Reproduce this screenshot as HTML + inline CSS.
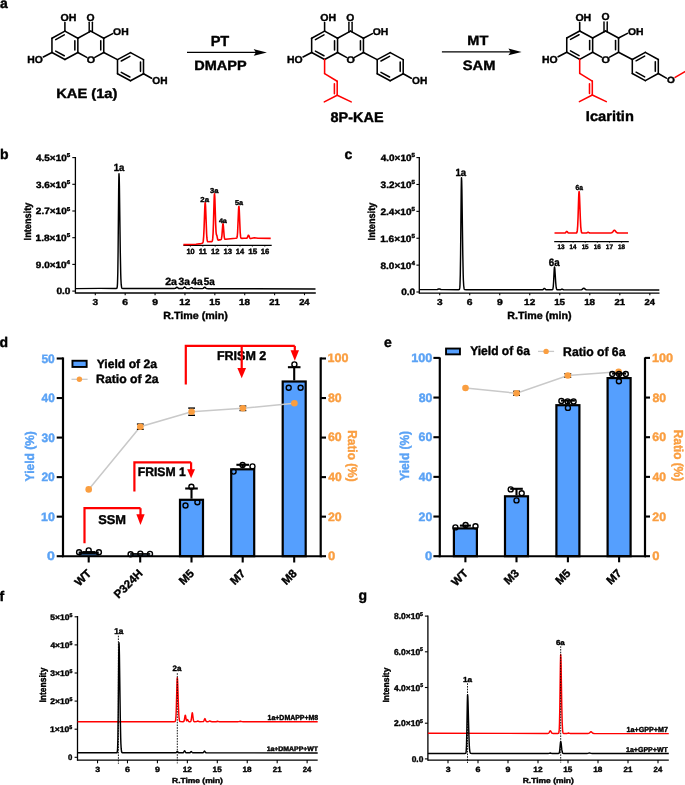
<!DOCTYPE html>
<html><head><meta charset="utf-8"><style>
html,body{margin:0;padding:0;background:#fff;overflow:hidden;}
svg{display:block;will-change:transform;text-rendering:geometricPrecision;font-family:"Liberation Sans", sans-serif;}
text{paint-order:stroke;stroke-width:0.4px;stroke-linejoin:round;}
</style></head><body>
<svg width="685" height="785" viewBox="0 0 685 785">
<rect width="685" height="785" fill="#fff"/>
<text x="0.00" y="7.70" font-size="14" text-anchor="start" font-weight="bold" fill="#000" stroke="#000">a</text>
<g stroke-linejoin="round">
<line x1="64.90" y1="31.15" x2="77.85" y2="38.25" stroke="#000" stroke-width="1.55" stroke-linecap="round"/>
<line x1="77.85" y1="38.25" x2="77.85" y2="52.45" stroke="#000" stroke-width="1.55" stroke-linecap="round"/>
<line x1="77.85" y1="52.45" x2="64.90" y2="59.55" stroke="#000" stroke-width="1.55" stroke-linecap="round"/>
<line x1="64.90" y1="59.55" x2="51.95" y2="52.45" stroke="#000" stroke-width="1.55" stroke-linecap="round"/>
<line x1="51.95" y1="52.45" x2="51.95" y2="38.25" stroke="#000" stroke-width="1.55" stroke-linecap="round"/>
<line x1="51.95" y1="38.25" x2="64.90" y2="31.15" stroke="#000" stroke-width="1.55" stroke-linecap="round"/>
<line x1="64.26" y1="34.92" x2="55.71" y2="39.61" stroke="#000" stroke-width="1.55" stroke-linecap="round"/>
<line x1="64.26" y1="55.78" x2="55.71" y2="51.09" stroke="#000" stroke-width="1.55" stroke-linecap="round"/>
<line x1="74.85" y1="40.66" x2="74.85" y2="50.04" stroke="#000" stroke-width="1.55" stroke-linecap="round"/>
<line x1="90.80" y1="31.15" x2="103.75" y2="38.25" stroke="#000" stroke-width="1.55" stroke-linecap="round"/>
<line x1="103.75" y1="38.25" x2="103.75" y2="52.45" stroke="#000" stroke-width="1.55" stroke-linecap="round"/>
<line x1="77.85" y1="38.25" x2="90.80" y2="31.15" stroke="#000" stroke-width="1.55" stroke-linecap="round"/>
<line x1="103.75" y1="52.45" x2="94.83" y2="57.34" stroke="#000" stroke-width="1.55" stroke-linecap="round"/>
<line x1="86.77" y1="57.34" x2="77.85" y2="52.45" stroke="#000" stroke-width="1.55" stroke-linecap="round"/>
<line x1="100.75" y1="40.66" x2="100.75" y2="50.04" stroke="#000" stroke-width="1.55" stroke-linecap="round"/>
<line x1="130.50" y1="52.60" x2="143.50" y2="59.65" stroke="#000" stroke-width="1.55" stroke-linecap="round"/>
<line x1="143.50" y1="59.65" x2="143.50" y2="73.75" stroke="#000" stroke-width="1.55" stroke-linecap="round"/>
<line x1="143.50" y1="73.75" x2="130.50" y2="80.80" stroke="#000" stroke-width="1.55" stroke-linecap="round"/>
<line x1="130.50" y1="80.80" x2="117.50" y2="73.75" stroke="#000" stroke-width="1.55" stroke-linecap="round"/>
<line x1="117.50" y1="73.75" x2="117.50" y2="59.65" stroke="#000" stroke-width="1.55" stroke-linecap="round"/>
<line x1="117.50" y1="59.65" x2="130.50" y2="52.60" stroke="#000" stroke-width="1.55" stroke-linecap="round"/>
<line x1="121.28" y1="61.01" x2="129.86" y2="56.35" stroke="#000" stroke-width="1.55" stroke-linecap="round"/>
<line x1="140.50" y1="62.05" x2="140.50" y2="71.35" stroke="#000" stroke-width="1.55" stroke-linecap="round"/>
<line x1="129.86" y1="77.05" x2="121.28" y2="72.39" stroke="#000" stroke-width="1.55" stroke-linecap="round"/>
<line x1="103.75" y1="52.45" x2="117.50" y2="59.65" stroke="#000" stroke-width="1.55" stroke-linecap="round"/>
<line x1="64.90" y1="31.15" x2="64.90" y2="22.60" stroke="#000" stroke-width="1.55" stroke-linecap="round"/>
<line x1="89.20" y1="32.05" x2="89.20" y2="22.20" stroke="#000" stroke-width="1.45" stroke-linecap="round"/>
<line x1="92.40" y1="32.05" x2="92.40" y2="22.20" stroke="#000" stroke-width="1.45" stroke-linecap="round"/>
<line x1="103.75" y1="38.25" x2="112.70" y2="33.60" stroke="#000" stroke-width="1.55" stroke-linecap="round"/>
<line x1="51.95" y1="52.45" x2="43.30" y2="57.00" stroke="#000" stroke-width="1.55" stroke-linecap="round"/>
<line x1="143.50" y1="73.75" x2="151.60" y2="78.30" stroke="#000" stroke-width="1.55" stroke-linecap="round"/>
</g>
<text transform="translate(60.58 20.80) scale(1.046 1)" font-size="10.14" font-weight="bold" fill="#000" stroke="#000">OH</text>
<text transform="translate(86.59 20.60) scale(1.021 1)" font-size="10.14" font-weight="bold" fill="#000" stroke="#000">O</text>
<text transform="translate(113.08 34.70) scale(1.055 1)" font-size="9.86" font-weight="bold" fill="#000" stroke="#000">OH</text>
<text transform="translate(27.22 62.90) scale(1.028 1)" font-size="10.14" font-weight="bold" fill="#000" stroke="#000">HO</text>
<text transform="translate(86.77 62.70) scale(1.128 1)" font-size="9.57" font-weight="bold" fill="#000" stroke="#000">O</text>
<text transform="translate(152.29 84.00) scale(1.003 1)" font-size="10.14" font-weight="bold" fill="#000" stroke="#000">OH</text>
<text transform="translate(56.14 98.40) scale(1.081 1)" font-size="13.62" font-weight="bold" fill="#000" stroke="#000">KAE (1a)</text>
<g stroke-linejoin="round">
<line x1="324.60" y1="31.15" x2="337.55" y2="38.25" stroke="#000" stroke-width="1.55" stroke-linecap="round"/>
<line x1="337.55" y1="38.25" x2="337.55" y2="52.45" stroke="#000" stroke-width="1.55" stroke-linecap="round"/>
<line x1="337.55" y1="52.45" x2="324.60" y2="59.55" stroke="#000" stroke-width="1.55" stroke-linecap="round"/>
<line x1="324.60" y1="59.55" x2="311.65" y2="52.45" stroke="#000" stroke-width="1.55" stroke-linecap="round"/>
<line x1="311.65" y1="52.45" x2="311.65" y2="38.25" stroke="#000" stroke-width="1.55" stroke-linecap="round"/>
<line x1="311.65" y1="38.25" x2="324.60" y2="31.15" stroke="#000" stroke-width="1.55" stroke-linecap="round"/>
<line x1="323.96" y1="34.92" x2="315.41" y2="39.61" stroke="#000" stroke-width="1.55" stroke-linecap="round"/>
<line x1="323.96" y1="55.78" x2="315.41" y2="51.09" stroke="#000" stroke-width="1.55" stroke-linecap="round"/>
<line x1="334.55" y1="40.66" x2="334.55" y2="50.04" stroke="#000" stroke-width="1.55" stroke-linecap="round"/>
<line x1="350.50" y1="31.15" x2="363.45" y2="38.25" stroke="#000" stroke-width="1.55" stroke-linecap="round"/>
<line x1="363.45" y1="38.25" x2="363.45" y2="52.45" stroke="#000" stroke-width="1.55" stroke-linecap="round"/>
<line x1="337.55" y1="38.25" x2="350.50" y2="31.15" stroke="#000" stroke-width="1.55" stroke-linecap="round"/>
<line x1="363.45" y1="52.45" x2="354.53" y2="57.34" stroke="#000" stroke-width="1.55" stroke-linecap="round"/>
<line x1="346.47" y1="57.34" x2="337.55" y2="52.45" stroke="#000" stroke-width="1.55" stroke-linecap="round"/>
<line x1="360.45" y1="40.66" x2="360.45" y2="50.04" stroke="#000" stroke-width="1.55" stroke-linecap="round"/>
<line x1="390.20" y1="52.60" x2="403.20" y2="59.65" stroke="#000" stroke-width="1.55" stroke-linecap="round"/>
<line x1="403.20" y1="59.65" x2="403.20" y2="73.75" stroke="#000" stroke-width="1.55" stroke-linecap="round"/>
<line x1="403.20" y1="73.75" x2="390.20" y2="80.80" stroke="#000" stroke-width="1.55" stroke-linecap="round"/>
<line x1="390.20" y1="80.80" x2="377.20" y2="73.75" stroke="#000" stroke-width="1.55" stroke-linecap="round"/>
<line x1="377.20" y1="73.75" x2="377.20" y2="59.65" stroke="#000" stroke-width="1.55" stroke-linecap="round"/>
<line x1="377.20" y1="59.65" x2="390.20" y2="52.60" stroke="#000" stroke-width="1.55" stroke-linecap="round"/>
<line x1="380.98" y1="61.01" x2="389.56" y2="56.35" stroke="#000" stroke-width="1.55" stroke-linecap="round"/>
<line x1="400.20" y1="62.05" x2="400.20" y2="71.35" stroke="#000" stroke-width="1.55" stroke-linecap="round"/>
<line x1="389.56" y1="77.05" x2="380.98" y2="72.39" stroke="#000" stroke-width="1.55" stroke-linecap="round"/>
<line x1="363.45" y1="52.45" x2="377.20" y2="59.65" stroke="#000" stroke-width="1.55" stroke-linecap="round"/>
<line x1="324.60" y1="31.15" x2="324.60" y2="22.60" stroke="#000" stroke-width="1.55" stroke-linecap="round"/>
<line x1="348.90" y1="32.05" x2="348.90" y2="22.20" stroke="#000" stroke-width="1.45" stroke-linecap="round"/>
<line x1="352.10" y1="32.05" x2="352.10" y2="22.20" stroke="#000" stroke-width="1.45" stroke-linecap="round"/>
<line x1="363.45" y1="38.25" x2="372.40" y2="33.60" stroke="#000" stroke-width="1.55" stroke-linecap="round"/>
<line x1="311.65" y1="52.45" x2="303.00" y2="57.00" stroke="#000" stroke-width="1.55" stroke-linecap="round"/>
<line x1="403.20" y1="73.75" x2="411.30" y2="78.30" stroke="#000" stroke-width="1.55" stroke-linecap="round"/>
</g>
<text transform="translate(320.28 20.80) scale(1.046 1)" font-size="10.14" font-weight="bold" fill="#000" stroke="#000">OH</text>
<text transform="translate(346.29 20.60) scale(1.021 1)" font-size="10.14" font-weight="bold" fill="#000" stroke="#000">O</text>
<text transform="translate(372.78 34.70) scale(1.055 1)" font-size="9.86" font-weight="bold" fill="#000" stroke="#000">OH</text>
<text transform="translate(286.92 62.90) scale(1.028 1)" font-size="10.14" font-weight="bold" fill="#000" stroke="#000">HO</text>
<text transform="translate(346.47 62.70) scale(1.128 1)" font-size="9.57" font-weight="bold" fill="#000" stroke="#000">O</text>
<text transform="translate(411.99 84.00) scale(1.003 1)" font-size="10.14" font-weight="bold" fill="#000" stroke="#000">OH</text>
<line x1="324.60" y1="59.55" x2="324.60" y2="73.55" stroke="#FF0000" stroke-width="1.55" stroke-linecap="round"/>
<line x1="324.60" y1="73.55" x2="337.20" y2="81.25" stroke="#FF0000" stroke-width="1.55" stroke-linecap="round"/>
<line x1="337.20" y1="81.25" x2="337.20" y2="95.25" stroke="#FF0000" stroke-width="1.55" stroke-linecap="round"/>
<line x1="337.20" y1="95.25" x2="324.30" y2="101.85" stroke="#FF0000" stroke-width="1.55" stroke-linecap="round"/>
<line x1="337.20" y1="95.25" x2="351.20" y2="101.85" stroke="#FF0000" stroke-width="1.55" stroke-linecap="round"/>
<line x1="334.40" y1="83.85" x2="334.40" y2="93.65" stroke="#FF0000" stroke-width="1.55" stroke-linecap="round"/>
<text transform="translate(330.57 121.50) scale(1.029 1)" font-size="14.06" font-weight="bold" fill="#000" stroke="#000">8P-KAE</text>
<g stroke-linejoin="round">
<line x1="579.70" y1="30.95" x2="592.65" y2="38.05" stroke="#000" stroke-width="1.55" stroke-linecap="round"/>
<line x1="592.65" y1="38.05" x2="592.65" y2="52.25" stroke="#000" stroke-width="1.55" stroke-linecap="round"/>
<line x1="592.65" y1="52.25" x2="579.70" y2="59.35" stroke="#000" stroke-width="1.55" stroke-linecap="round"/>
<line x1="579.70" y1="59.35" x2="566.75" y2="52.25" stroke="#000" stroke-width="1.55" stroke-linecap="round"/>
<line x1="566.75" y1="52.25" x2="566.75" y2="38.05" stroke="#000" stroke-width="1.55" stroke-linecap="round"/>
<line x1="566.75" y1="38.05" x2="579.70" y2="30.95" stroke="#000" stroke-width="1.55" stroke-linecap="round"/>
<line x1="579.06" y1="34.72" x2="570.51" y2="39.41" stroke="#000" stroke-width="1.55" stroke-linecap="round"/>
<line x1="579.06" y1="55.58" x2="570.51" y2="50.89" stroke="#000" stroke-width="1.55" stroke-linecap="round"/>
<line x1="589.65" y1="40.46" x2="589.65" y2="49.84" stroke="#000" stroke-width="1.55" stroke-linecap="round"/>
<line x1="605.60" y1="30.95" x2="618.55" y2="38.05" stroke="#000" stroke-width="1.55" stroke-linecap="round"/>
<line x1="618.55" y1="38.05" x2="618.55" y2="52.25" stroke="#000" stroke-width="1.55" stroke-linecap="round"/>
<line x1="592.65" y1="38.05" x2="605.60" y2="30.95" stroke="#000" stroke-width="1.55" stroke-linecap="round"/>
<line x1="618.55" y1="52.25" x2="609.63" y2="57.14" stroke="#000" stroke-width="1.55" stroke-linecap="round"/>
<line x1="601.57" y1="57.14" x2="592.65" y2="52.25" stroke="#000" stroke-width="1.55" stroke-linecap="round"/>
<line x1="615.55" y1="40.46" x2="615.55" y2="49.84" stroke="#000" stroke-width="1.55" stroke-linecap="round"/>
<line x1="645.30" y1="52.40" x2="658.30" y2="59.45" stroke="#000" stroke-width="1.55" stroke-linecap="round"/>
<line x1="658.30" y1="59.45" x2="658.30" y2="73.55" stroke="#000" stroke-width="1.55" stroke-linecap="round"/>
<line x1="658.30" y1="73.55" x2="645.30" y2="80.60" stroke="#000" stroke-width="1.55" stroke-linecap="round"/>
<line x1="645.30" y1="80.60" x2="632.30" y2="73.55" stroke="#000" stroke-width="1.55" stroke-linecap="round"/>
<line x1="632.30" y1="73.55" x2="632.30" y2="59.45" stroke="#000" stroke-width="1.55" stroke-linecap="round"/>
<line x1="632.30" y1="59.45" x2="645.30" y2="52.40" stroke="#000" stroke-width="1.55" stroke-linecap="round"/>
<line x1="636.08" y1="60.81" x2="644.66" y2="56.15" stroke="#000" stroke-width="1.55" stroke-linecap="round"/>
<line x1="655.30" y1="61.85" x2="655.30" y2="71.15" stroke="#000" stroke-width="1.55" stroke-linecap="round"/>
<line x1="644.66" y1="76.85" x2="636.08" y2="72.19" stroke="#000" stroke-width="1.55" stroke-linecap="round"/>
<line x1="618.55" y1="52.25" x2="632.30" y2="59.45" stroke="#000" stroke-width="1.55" stroke-linecap="round"/>
<line x1="579.70" y1="30.95" x2="579.70" y2="22.40" stroke="#000" stroke-width="1.55" stroke-linecap="round"/>
<line x1="604.00" y1="31.85" x2="604.00" y2="22.00" stroke="#000" stroke-width="1.45" stroke-linecap="round"/>
<line x1="607.20" y1="31.85" x2="607.20" y2="22.00" stroke="#000" stroke-width="1.45" stroke-linecap="round"/>
<line x1="618.55" y1="38.05" x2="627.50" y2="33.40" stroke="#000" stroke-width="1.55" stroke-linecap="round"/>
<line x1="566.75" y1="52.25" x2="558.10" y2="56.80" stroke="#000" stroke-width="1.55" stroke-linecap="round"/>
<line x1="658.30" y1="73.55" x2="666.40" y2="78.10" stroke="#000" stroke-width="1.55" stroke-linecap="round"/>
</g>
<text transform="translate(575.38 20.60) scale(1.046 1)" font-size="10.14" font-weight="bold" fill="#000" stroke="#000">OH</text>
<text transform="translate(601.39 20.40) scale(1.021 1)" font-size="10.14" font-weight="bold" fill="#000" stroke="#000">O</text>
<text transform="translate(627.88 34.50) scale(1.055 1)" font-size="9.86" font-weight="bold" fill="#000" stroke="#000">OH</text>
<text transform="translate(542.02 62.70) scale(1.028 1)" font-size="10.14" font-weight="bold" fill="#000" stroke="#000">HO</text>
<text transform="translate(601.57 62.50) scale(1.128 1)" font-size="9.57" font-weight="bold" fill="#000" stroke="#000">O</text>
<text transform="translate(667.10 83.10) scale(1.121 1)" font-size="8.99" font-weight="bold" fill="#000" stroke="#000">O</text>
<line x1="675.10" y1="77.40" x2="686.80" y2="70.70" stroke="#FF0000" stroke-width="1.55" stroke-linecap="round"/>
<line x1="579.70" y1="59.35" x2="579.70" y2="73.35" stroke="#FF0000" stroke-width="1.55" stroke-linecap="round"/>
<line x1="579.70" y1="73.35" x2="592.30" y2="81.05" stroke="#FF0000" stroke-width="1.55" stroke-linecap="round"/>
<line x1="592.30" y1="81.05" x2="592.30" y2="95.05" stroke="#FF0000" stroke-width="1.55" stroke-linecap="round"/>
<line x1="592.30" y1="95.05" x2="579.40" y2="101.65" stroke="#FF0000" stroke-width="1.55" stroke-linecap="round"/>
<line x1="592.30" y1="95.05" x2="606.30" y2="101.65" stroke="#FF0000" stroke-width="1.55" stroke-linecap="round"/>
<line x1="589.50" y1="83.65" x2="589.50" y2="93.45" stroke="#FF0000" stroke-width="1.55" stroke-linecap="round"/>
<text transform="translate(585.85 120.90) scale(1.031 1)" font-size="14.20" font-weight="bold" fill="#000" stroke="#000">Icaritin</text>
<line x1="187.00" y1="52.40" x2="260.90" y2="52.40" stroke="#000" stroke-width="1.4"/>
<path d="M266.90,52.40 L253.70,49.10 L255.90,52.40 L253.70,55.70 Z" fill="#000"/>
<text transform="translate(210.65 46.10) scale(1.006 1)" font-size="14.49" font-weight="bold" fill="#000" stroke="#000">PT</text>
<text transform="translate(194.26 70.20) scale(1.065 1)" font-size="13.62" font-weight="bold" fill="#000" stroke="#000">DMAPP</text>
<text transform="translate(467.36 45.30) scale(1.066 1)" font-size="13.62" font-weight="bold" fill="#000" stroke="#000">MT</text>
<text transform="translate(462.76 70.00) scale(1.078 1)" font-size="13.62" font-weight="bold" fill="#000" stroke="#000">SAM</text>
<line x1="441.90" y1="51.90" x2="515.60" y2="51.90" stroke="#000" stroke-width="1.4"/>
<path d="M521.60,51.90 L508.40,48.60 L510.60,51.90 L508.40,55.20 Z" fill="#000"/>
<text x="-0.10" y="159.10" font-size="14" text-anchor="start" font-weight="bold" fill="#000" stroke="#000">b</text>
<line x1="75.40" y1="157.00" x2="75.40" y2="293.60" stroke="#000" stroke-width="1.3"/>
<line x1="72.30" y1="291.10" x2="75.40" y2="291.10" stroke="#000" stroke-width="1.1"/>
<text transform="translate(56.40 294.30) scale(1.104 1)" font-size="9.13" font-weight="bold" fill="#000" stroke="#000">0.0</text>
<line x1="72.30" y1="264.40" x2="75.40" y2="264.40" stroke="#000" stroke-width="1.1"/>
<text transform="translate(70.04 267.70) scale(1.091 1)" font-size="9.13" font-weight="bold" text-anchor="end" fill="#000" stroke="#000">9.0×10<tspan font-size="5.66" dy="-3.65">4</tspan></text>
<line x1="72.30" y1="237.70" x2="75.40" y2="237.70" stroke="#000" stroke-width="1.1"/>
<text transform="translate(70.16 241.00) scale(1.105 1)" font-size="9.13" font-weight="bold" text-anchor="end" fill="#000" stroke="#000">1.8×10<tspan font-size="5.66" dy="-3.65">5</tspan></text>
<line x1="72.30" y1="211.00" x2="75.40" y2="211.00" stroke="#000" stroke-width="1.1"/>
<text transform="translate(70.16 214.30) scale(1.095 1)" font-size="9.13" font-weight="bold" text-anchor="end" fill="#000" stroke="#000">2.7×10<tspan font-size="5.66" dy="-3.65">5</tspan></text>
<line x1="72.30" y1="184.30" x2="75.40" y2="184.30" stroke="#000" stroke-width="1.1"/>
<text transform="translate(70.16 187.60) scale(1.092 1)" font-size="9.13" font-weight="bold" text-anchor="end" fill="#000" stroke="#000">3.6×10<tspan font-size="5.66" dy="-3.65">5</tspan></text>
<line x1="72.30" y1="157.60" x2="75.40" y2="157.60" stroke="#000" stroke-width="1.1"/>
<text transform="translate(70.16 160.90) scale(1.089 1)" font-size="9.13" font-weight="bold" text-anchor="end" fill="#000" stroke="#000">4.5×10<tspan font-size="5.66" dy="-3.65">5</tspan></text>
<line x1="75.40" y1="293.00" x2="315.80" y2="293.00" stroke="#000" stroke-width="1.3"/>
<line x1="95.30" y1="293.00" x2="95.30" y2="295.20" stroke="#000" stroke-width="1.1"/>
<text transform="translate(92.54 305.30) scale(1.162 1)" font-size="8.70" font-weight="bold" fill="#000" stroke="#000">3</text>
<line x1="125.18" y1="293.00" x2="125.18" y2="295.20" stroke="#000" stroke-width="1.1"/>
<text transform="translate(122.32 305.30) scale(1.186 1)" font-size="8.70" font-weight="bold" fill="#000" stroke="#000">6</text>
<line x1="155.07" y1="293.00" x2="155.07" y2="295.20" stroke="#000" stroke-width="1.1"/>
<text transform="translate(152.21 305.30) scale(1.186 1)" font-size="8.70" font-weight="bold" fill="#000" stroke="#000">9</text>
<line x1="184.95" y1="293.00" x2="184.95" y2="295.20" stroke="#000" stroke-width="1.1"/>
<text transform="translate(179.31 305.30) scale(1.144 1)" font-size="8.70" font-weight="bold" fill="#000" stroke="#000">12</text>
<line x1="214.84" y1="293.00" x2="214.84" y2="295.20" stroke="#000" stroke-width="1.1"/>
<text transform="translate(209.20 305.30) scale(1.127 1)" font-size="8.70" font-weight="bold" fill="#000" stroke="#000">15</text>
<line x1="244.73" y1="293.00" x2="244.73" y2="295.20" stroke="#000" stroke-width="1.1"/>
<text transform="translate(239.09 305.30) scale(1.133 1)" font-size="8.70" font-weight="bold" fill="#000" stroke="#000">18</text>
<line x1="274.61" y1="293.00" x2="274.61" y2="295.20" stroke="#000" stroke-width="1.1"/>
<text transform="translate(269.28 305.30) scale(1.095 1)" font-size="8.70" font-weight="bold" fill="#000" stroke="#000">21</text>
<line x1="304.50" y1="293.00" x2="304.50" y2="295.20" stroke="#000" stroke-width="1.1"/>
<text transform="translate(299.17 305.30) scale(1.075 1)" font-size="8.70" font-weight="bold" fill="#000" stroke="#000">24</text>
<text transform="translate(163.31 319.00) scale(1.024 1)" font-size="10.43" font-weight="bold" fill="#000" stroke="#000">R.Time (min)</text>
<text transform="translate(30.90 240.40) rotate(-90) scale(0.905 1)" font-size="10.14" font-weight="bold" fill="#000" stroke="#000">Intensity</text>
<path d="M75.40,288.60 L100.00,288.40 L116.20,288.44 L116.70,288.36 L117.00,288.00 L117.30,286.37 L117.50,283.40 L117.80,272.93 L118.10,251.22 L118.70,187.27 L118.90,175.38 L119.00,173.80 L119.20,176.93 L119.40,185.82 L120.30,252.85 L120.70,272.93 L120.90,279.02 L121.20,284.42 L121.60,287.38 L121.80,287.95 L122.10,288.30 L122.50,288.43 L123.20,288.45 L174.20,288.57 L175.30,288.39 L175.70,288.13 L176.50,287.36 L176.90,287.20 L177.30,287.36 L178.30,288.28 L178.80,288.50 L181.90,288.58 L182.50,288.54 L183.00,288.38 L183.40,288.08 L184.20,287.19 L184.60,287.00 L185.00,287.19 L185.80,288.08 L186.20,288.38 L186.70,288.55 L187.50,288.60 L189.00,288.60 L189.70,288.50 L190.20,288.28 L191.00,287.72 L191.40,287.60 L191.80,287.72 L192.80,288.40 L193.60,288.59 L202.40,288.61 L203.20,288.39 L204.30,287.37 L204.70,287.20 L205.10,287.37 L205.90,288.18 L206.30,288.45 L206.80,288.60 L207.50,288.65 L315.50,288.90" fill="none" stroke="#000" stroke-width="1.45" stroke-linejoin="round"/>
<text transform="translate(113.78 170.50) scale(0.917 1)" font-size="10.43" font-weight="bold" fill="#000" stroke="#000">1a</text>
<text transform="translate(165.13 284.60) scale(1.016 1)" font-size="10.43" font-weight="bold" fill="#000" stroke="#000">2a</text>
<text transform="translate(178.54 284.60) scale(0.980 1)" font-size="10.43" font-weight="bold" fill="#000" stroke="#000">3a</text>
<text transform="translate(191.25 284.60) scale(0.980 1)" font-size="10.43" font-weight="bold" fill="#000" stroke="#000">4a</text>
<text transform="translate(203.70 284.60) scale(0.950 1)" font-size="10.43" font-weight="bold" fill="#000" stroke="#000">5a</text>
<line x1="183.40" y1="245.40" x2="271.70" y2="245.40" stroke="#000" stroke-width="1.25"/>
<line x1="190.40" y1="245.40" x2="190.40" y2="246.60" stroke="#000" stroke-width="0.9"/>
<line x1="202.80" y1="245.40" x2="202.80" y2="246.60" stroke="#000" stroke-width="0.9"/>
<line x1="215.20" y1="245.40" x2="215.20" y2="246.60" stroke="#000" stroke-width="0.9"/>
<line x1="227.60" y1="245.40" x2="227.60" y2="246.60" stroke="#000" stroke-width="0.9"/>
<line x1="240.00" y1="245.40" x2="240.00" y2="246.60" stroke="#000" stroke-width="0.9"/>
<line x1="252.40" y1="245.40" x2="252.40" y2="246.60" stroke="#000" stroke-width="0.9"/>
<line x1="264.80" y1="245.40" x2="264.80" y2="246.60" stroke="#000" stroke-width="0.9"/>
<text transform="translate(186.52 253.80) scale(0.977 1)" font-size="7.54" font-weight="bold" fill="#000" stroke="#000">10</text>
<text transform="translate(198.70 253.80) scale(1.018 1)" font-size="7.54" font-weight="bold" fill="#000" stroke="#000">11</text>
<text transform="translate(211.11 253.80) scale(1.003 1)" font-size="7.54" font-weight="bold" fill="#000" stroke="#000">12</text>
<text transform="translate(223.40 253.80) scale(1.012 1)" font-size="7.54" font-weight="bold" fill="#000" stroke="#000">13</text>
<text transform="translate(235.71 253.80) scale(0.995 1)" font-size="7.54" font-weight="bold" fill="#000" stroke="#000">14</text>
<text transform="translate(248.18 253.80) scale(1.067 1)" font-size="7.54" font-weight="bold" fill="#000" stroke="#000">15</text>
<text transform="translate(260.70 253.80) scale(1.012 1)" font-size="7.54" font-weight="bold" fill="#000" stroke="#000">16</text>
<path d="M183.40,244.60 L196.00,244.30 L201.00,243.60 L202.30,243.20 L202.80,242.69 L203.05,241.99 L203.30,240.62 L203.70,236.02 L204.05,228.60 L204.80,207.39 L205.00,203.88 L205.20,202.60 L205.40,203.78 L205.60,207.19 L206.60,233.56 L206.90,237.94 L207.20,240.29 L207.55,241.43 L207.75,241.66 L208.10,241.82 L211.45,241.65 L211.85,241.54 L212.15,241.27 L212.45,240.46 L212.70,238.88 L213.10,233.17 L213.45,223.63 L214.10,200.25 L214.30,195.60 L214.50,193.90 L214.70,195.30 L214.90,199.34 L215.65,223.69 L216.05,232.02 L216.35,234.36 L216.90,235.54 L217.60,239.05 L217.80,239.66 L218.05,240.02 L218.50,240.10 L220.80,239.66 L221.20,239.34 L221.45,238.74 L221.90,235.86 L222.65,225.95 L222.85,224.23 L223.00,223.80 L223.15,224.20 L223.35,225.89 L224.20,236.55 L224.50,238.29 L224.85,239.08 L225.15,239.26 L225.65,239.28 L235.50,238.29 L236.45,238.13 L236.80,237.86 L237.05,237.25 L237.25,236.24 L237.60,232.54 L238.55,210.05 L238.75,207.02 L238.90,206.30 L239.05,207.03 L239.25,210.07 L240.20,232.64 L240.60,236.69 L240.80,237.57 L241.10,238.16 L241.60,238.37 L244.00,238.20 L246.10,238.31 L246.70,238.24 L247.00,238.05 L247.25,237.73 L248.15,235.56 L248.35,235.27 L248.50,235.20 L248.85,235.60 L249.50,237.35 L249.85,238.04 L250.25,238.42 L250.75,238.58 L254.30,237.80 L258.00,238.30 L270.70,238.40" fill="none" stroke="#FF0000" stroke-width="1.6" stroke-linejoin="round"/>
<text transform="translate(200.33 202.00) scale(1.081 1)" font-size="7.25" font-weight="bold" fill="#000" stroke="#000">2a</text>
<text transform="translate(210.11 193.30) scale(1.046 1)" font-size="7.25" font-weight="bold" fill="#000" stroke="#000">3a</text>
<text transform="translate(218.89 222.90) scale(1.072 1)" font-size="6.67" font-weight="bold" fill="#000" stroke="#000">4a</text>
<text transform="translate(234.88 204.90) scale(1.042 1)" font-size="6.96" font-weight="bold" fill="#000" stroke="#000">5a</text>
<text x="344.40" y="159.20" font-size="14" text-anchor="start" font-weight="bold" fill="#000" stroke="#000">c</text>
<line x1="419.30" y1="157.00" x2="419.30" y2="293.70" stroke="#000" stroke-width="1.3"/>
<line x1="416.40" y1="292.00" x2="419.30" y2="292.00" stroke="#000" stroke-width="1.1"/>
<text transform="translate(401.20 295.20) scale(1.086 1)" font-size="9.28" font-weight="bold" fill="#000" stroke="#000">0.0</text>
<line x1="416.40" y1="265.12" x2="419.30" y2="265.12" stroke="#000" stroke-width="1.1"/>
<text transform="translate(414.84 268.52) scale(1.079 1)" font-size="9.28" font-weight="bold" text-anchor="end" fill="#000" stroke="#000">8.0×10<tspan font-size="5.75" dy="-3.71">4</tspan></text>
<line x1="416.40" y1="238.24" x2="419.30" y2="238.24" stroke="#000" stroke-width="1.1"/>
<text transform="translate(414.96 241.64) scale(1.094 1)" font-size="9.28" font-weight="bold" text-anchor="end" fill="#000" stroke="#000">1.6×10<tspan font-size="5.75" dy="-3.71">5</tspan></text>
<line x1="416.40" y1="211.36" x2="419.30" y2="211.36" stroke="#000" stroke-width="1.1"/>
<text transform="translate(414.96 214.76) scale(1.084 1)" font-size="9.28" font-weight="bold" text-anchor="end" fill="#000" stroke="#000">2.4×10<tspan font-size="5.75" dy="-3.71">5</tspan></text>
<line x1="416.40" y1="184.48" x2="419.30" y2="184.48" stroke="#000" stroke-width="1.1"/>
<text transform="translate(414.96 187.88) scale(1.081 1)" font-size="9.28" font-weight="bold" text-anchor="end" fill="#000" stroke="#000">3.2×10<tspan font-size="5.75" dy="-3.71">5</tspan></text>
<line x1="416.40" y1="157.60" x2="419.30" y2="157.60" stroke="#000" stroke-width="1.1"/>
<text transform="translate(414.96 161.00) scale(1.078 1)" font-size="9.28" font-weight="bold" text-anchor="end" fill="#000" stroke="#000">4.0×10<tspan font-size="5.75" dy="-3.71">5</tspan></text>
<line x1="419.30" y1="293.10" x2="659.50" y2="293.10" stroke="#000" stroke-width="1.3"/>
<line x1="439.71" y1="293.10" x2="439.71" y2="295.30" stroke="#000" stroke-width="1.1"/>
<text transform="translate(436.96 305.30) scale(1.162 1)" font-size="8.70" font-weight="bold" fill="#000" stroke="#000">3</text>
<line x1="469.73" y1="293.10" x2="469.73" y2="295.30" stroke="#000" stroke-width="1.1"/>
<text transform="translate(466.87 305.30) scale(1.186 1)" font-size="8.70" font-weight="bold" fill="#000" stroke="#000">6</text>
<line x1="499.75" y1="293.10" x2="499.75" y2="295.30" stroke="#000" stroke-width="1.1"/>
<text transform="translate(496.88 305.30) scale(1.186 1)" font-size="8.70" font-weight="bold" fill="#000" stroke="#000">9</text>
<line x1="529.76" y1="293.10" x2="529.76" y2="295.30" stroke="#000" stroke-width="1.1"/>
<text transform="translate(524.11 305.30) scale(1.144 1)" font-size="8.70" font-weight="bold" fill="#000" stroke="#000">12</text>
<line x1="559.77" y1="293.10" x2="559.77" y2="295.30" stroke="#000" stroke-width="1.1"/>
<text transform="translate(554.14 305.30) scale(1.127 1)" font-size="8.70" font-weight="bold" fill="#000" stroke="#000">15</text>
<line x1="589.79" y1="293.10" x2="589.79" y2="295.30" stroke="#000" stroke-width="1.1"/>
<text transform="translate(584.15 305.30) scale(1.133 1)" font-size="8.70" font-weight="bold" fill="#000" stroke="#000">18</text>
<line x1="619.81" y1="293.10" x2="619.81" y2="295.30" stroke="#000" stroke-width="1.1"/>
<text transform="translate(614.47 305.30) scale(1.095 1)" font-size="8.70" font-weight="bold" fill="#000" stroke="#000">21</text>
<line x1="649.82" y1="293.10" x2="649.82" y2="295.30" stroke="#000" stroke-width="1.1"/>
<text transform="translate(644.49 305.30) scale(1.075 1)" font-size="8.70" font-weight="bold" fill="#000" stroke="#000">24</text>
<text transform="translate(507.21 319.00) scale(1.024 1)" font-size="10.43" font-weight="bold" fill="#000" stroke="#000">R.Time (min)</text>
<text transform="translate(375.00 240.40) rotate(-90) scale(0.905 1)" font-size="10.14" font-weight="bold" fill="#000" stroke="#000">Intensity</text>
<path d="M419.30,289.60 L436.30,289.61 L437.30,289.48 L438.60,288.99 L439.10,288.90 L439.60,288.99 L441.00,289.52 L442.30,289.63 L458.80,289.66 L459.20,289.59 L459.50,289.23 L459.80,287.65 L460.00,284.75 L460.30,274.53 L460.60,253.35 L461.20,190.94 L461.40,179.34 L461.50,177.80 L461.70,180.85 L461.90,189.53 L462.80,254.94 L463.20,274.53 L463.40,280.47 L463.70,285.75 L464.10,288.63 L464.30,289.18 L464.60,289.53 L465.00,289.65 L465.80,289.68 L542.00,289.80 L542.60,289.75 L543.00,289.62 L544.10,288.52 L544.40,288.40 L544.80,288.61 L545.60,289.49 L546.20,289.76 L552.30,289.78 L552.70,289.48 L552.90,289.01 L553.30,286.32 L553.60,281.87 L554.20,269.52 L554.40,267.29 L554.50,267.00 L554.70,267.70 L554.90,269.68 L555.70,282.42 L556.10,286.74 L556.30,288.01 L556.60,289.10 L556.90,289.58 L557.30,289.78 L560.50,289.80 L561.00,289.65 L561.70,289.19 L562.00,289.10 L562.30,289.19 L563.10,289.70 L563.80,289.83 L580.80,289.85 L581.40,289.78 L581.90,289.60 L583.30,288.40 L583.80,288.20 L584.30,288.40 L585.70,289.60 L586.30,289.80 L587.10,289.87 L659.30,290.00" fill="none" stroke="#000" stroke-width="1.45" stroke-linejoin="round"/>
<text transform="translate(455.38 176.20) scale(0.917 1)" font-size="10.43" font-weight="bold" fill="#000" stroke="#000">1a</text>
<text transform="translate(548.76 265.50) scale(0.923 1)" font-size="10.58" font-weight="bold" fill="#000" stroke="#000">6a</text>
<line x1="554.20" y1="241.60" x2="628.80" y2="241.60" stroke="#000" stroke-width="1.25"/>
<line x1="561.00" y1="241.60" x2="561.00" y2="242.70" stroke="#000" stroke-width="0.9"/>
<text transform="translate(557.39 249.20) scale(0.950 1)" font-size="6.67" font-weight="bold" fill="#000" stroke="#000">13</text>
<line x1="573.12" y1="241.60" x2="573.12" y2="242.70" stroke="#000" stroke-width="0.9"/>
<text transform="translate(569.52 249.20) scale(0.923 1)" font-size="6.67" font-weight="bold" fill="#000" stroke="#000">14</text>
<line x1="585.24" y1="241.60" x2="585.24" y2="242.70" stroke="#000" stroke-width="0.9"/>
<text transform="translate(581.63 249.20) scale(0.941 1)" font-size="6.67" font-weight="bold" fill="#000" stroke="#000">15</text>
<line x1="597.36" y1="241.60" x2="597.36" y2="242.70" stroke="#000" stroke-width="0.9"/>
<text transform="translate(593.75 249.20) scale(0.950 1)" font-size="6.67" font-weight="bold" fill="#000" stroke="#000">16</text>
<line x1="609.48" y1="241.60" x2="609.48" y2="242.70" stroke="#000" stroke-width="0.9"/>
<text transform="translate(605.86 249.20) scale(0.960 1)" font-size="6.67" font-weight="bold" fill="#000" stroke="#000">17</text>
<line x1="621.60" y1="241.60" x2="621.60" y2="242.70" stroke="#000" stroke-width="0.9"/>
<text transform="translate(617.99 249.20) scale(0.946 1)" font-size="6.67" font-weight="bold" fill="#000" stroke="#000">18</text>
<path d="M554.50,233.00 L564.85,232.97 L565.55,232.68 L566.45,231.59 L566.80,231.40 L567.15,231.59 L568.05,232.68 L568.75,232.97 L576.00,232.99 L576.50,232.90 L576.80,232.62 L577.10,231.82 L577.30,230.68 L577.70,225.75 L578.05,217.46 L578.70,197.09 L578.90,193.05 L579.10,191.60 L579.30,192.73 L579.50,195.94 L580.35,218.96 L580.75,226.71 L581.20,231.04 L581.50,232.23 L581.85,232.78 L582.15,232.93 L582.60,232.99 L586.50,232.98 L587.05,232.83 L587.80,232.29 L588.10,232.20 L588.40,232.29 L589.25,232.87 L589.95,232.99 L610.80,232.97 L611.55,232.83 L612.15,232.52 L612.70,231.97 L613.80,230.53 L614.10,230.29 L614.40,230.20 L614.70,230.29 L615.00,230.53 L616.50,232.39 L616.95,232.71 L617.50,232.90 L618.85,233.00 L628.00,233.00" fill="none" stroke="#FF0000" stroke-width="1.6" stroke-linejoin="round"/>
<text transform="translate(575.46 189.90) scale(0.910 1)" font-size="7.39" font-weight="bold" fill="#000" stroke="#000">6a</text>
<text x="-0.60" y="346.50" font-size="14" text-anchor="start" font-weight="bold" fill="#000" stroke="#000">d</text>
<rect x="180.00" y="499.80" width="23.00" height="56.40" fill="#559FFE" stroke="#000" stroke-width="2.2"/>
<rect x="231.20" y="469.30" width="23.00" height="86.90" fill="#559FFE" stroke="#000" stroke-width="2.2"/>
<rect x="282.70" y="381.50" width="23.00" height="174.70" fill="#559FFE" stroke="#000" stroke-width="2.2"/>
<polyline points="88.7,489.4 140.3,426.7 191.6,411.7 242.9,408.3 294.4,403.3" fill="none" stroke="#C9C9C9" stroke-width="1.5"/>
<line x1="191.50" y1="498.70" x2="191.50" y2="488.50" stroke="#000" stroke-width="2.1"/>
<line x1="185.20" y1="488.50" x2="197.80" y2="488.50" stroke="#000" stroke-width="2.1"/>
<circle cx="191.40" cy="486.70" r="2.5" fill="none" stroke="#000" stroke-width="1.4"/>
<circle cx="185.50" cy="505.50" r="2.5" fill="none" stroke="#000" stroke-width="1.4"/>
<circle cx="197.40" cy="502.20" r="2.5" fill="none" stroke="#000" stroke-width="1.4"/>
<line x1="242.70" y1="468.20" x2="242.70" y2="464.80" stroke="#000" stroke-width="2.1"/>
<line x1="236.40" y1="464.80" x2="249.00" y2="464.80" stroke="#000" stroke-width="2.1"/>
<circle cx="242.60" cy="465.00" r="2.5" fill="none" stroke="#000" stroke-width="1.4"/>
<circle cx="233.60" cy="471.60" r="2.5" fill="none" stroke="#000" stroke-width="1.4"/>
<circle cx="252.50" cy="466.40" r="2.5" fill="none" stroke="#000" stroke-width="1.4"/>
<line x1="294.20" y1="380.40" x2="294.20" y2="367.20" stroke="#000" stroke-width="2.1"/>
<line x1="287.90" y1="367.20" x2="300.50" y2="367.20" stroke="#000" stroke-width="2.1"/>
<circle cx="294.40" cy="364.40" r="2.5" fill="none" stroke="#000" stroke-width="1.4"/>
<circle cx="288.70" cy="387.80" r="2.5" fill="none" stroke="#000" stroke-width="1.4"/>
<circle cx="300.60" cy="387.80" r="2.5" fill="none" stroke="#000" stroke-width="1.4"/>
<rect x="78.7" y="552.6" width="20" height="3.2" fill="#24466e"/>
<line x1="78.70" y1="552.60" x2="98.70" y2="552.60" stroke="#000" stroke-width="2.2"/>
<rect x="82.6" y="551.1" width="12.4" height="2.6" fill="#000"/>
<circle cx="79.10" cy="552.30" r="2.5" fill="none" stroke="#000" stroke-width="1.4"/>
<circle cx="88.70" cy="550.40" r="2.5" fill="none" stroke="#000" stroke-width="1.4"/>
<circle cx="98.90" cy="552.30" r="2.5" fill="none" stroke="#000" stroke-width="1.4"/>
<rect x="130.2" y="554.3" width="20" height="1.6" fill="#24466e"/>
<line x1="130.20" y1="553.90" x2="150.20" y2="553.90" stroke="#000" stroke-width="1.6"/>
<circle cx="130.60" cy="554.20" r="2.5" fill="none" stroke="#000" stroke-width="1.4"/>
<circle cx="140.30" cy="553.60" r="2.5" fill="none" stroke="#000" stroke-width="1.4"/>
<circle cx="150.00" cy="553.90" r="2.5" fill="none" stroke="#000" stroke-width="1.4"/>
<circle cx="88.70" cy="489.40" r="3.3" fill="#FA9E40" stroke="none" stroke-width="0"/>
<line x1="136.90" y1="424.10" x2="143.70" y2="424.10" stroke="#000" stroke-width="1.4"/>
<line x1="136.90" y1="429.30" x2="143.70" y2="429.30" stroke="#000" stroke-width="1.4"/>
<line x1="140.30" y1="424.10" x2="140.30" y2="429.30" stroke="#000" stroke-width="1.2"/>
<circle cx="140.30" cy="426.70" r="3.3" fill="#FA9E40" stroke="none" stroke-width="0"/>
<line x1="188.20" y1="408.10" x2="195.00" y2="408.10" stroke="#000" stroke-width="1.4"/>
<line x1="188.20" y1="415.30" x2="195.00" y2="415.30" stroke="#000" stroke-width="1.4"/>
<line x1="191.60" y1="408.10" x2="191.60" y2="415.30" stroke="#000" stroke-width="1.2"/>
<circle cx="191.60" cy="411.70" r="3.3" fill="#FA9E40" stroke="none" stroke-width="0"/>
<line x1="239.50" y1="406.10" x2="246.30" y2="406.10" stroke="#000" stroke-width="1.4"/>
<line x1="239.50" y1="410.50" x2="246.30" y2="410.50" stroke="#000" stroke-width="1.4"/>
<line x1="242.90" y1="406.10" x2="242.90" y2="410.50" stroke="#000" stroke-width="1.2"/>
<circle cx="242.90" cy="408.30" r="3.3" fill="#FA9E40" stroke="none" stroke-width="0"/>
<circle cx="294.40" cy="403.30" r="3.3" fill="#FA9E40" stroke="none" stroke-width="0"/>
<line x1="63.00" y1="357.40" x2="63.00" y2="557.20" stroke="#000" stroke-width="2.2"/>
<line x1="320.70" y1="357.40" x2="320.70" y2="557.20" stroke="#000" stroke-width="2.2"/>
<line x1="61.90" y1="556.20" x2="321.80" y2="556.20" stroke="#000" stroke-width="2.1"/>
<line x1="56.70" y1="556.20" x2="63.00" y2="556.20" stroke="#000" stroke-width="2.1"/>
<line x1="56.70" y1="516.66" x2="63.00" y2="516.66" stroke="#000" stroke-width="2.1"/>
<line x1="56.70" y1="477.12" x2="63.00" y2="477.12" stroke="#000" stroke-width="2.1"/>
<line x1="56.70" y1="437.58" x2="63.00" y2="437.58" stroke="#000" stroke-width="2.1"/>
<line x1="56.70" y1="398.04" x2="63.00" y2="398.04" stroke="#000" stroke-width="2.1"/>
<line x1="56.70" y1="358.50" x2="63.00" y2="358.50" stroke="#000" stroke-width="2.1"/>
<text transform="translate(47.04 560.20) scale(1.159 1)" font-size="12.17" font-weight="bold" fill="#5AA2F5" stroke="#5AA2F5">0</text>
<text transform="translate(40.99 520.66) scale(1.022 1)" font-size="12.17" font-weight="bold" fill="#5AA2F5" stroke="#5AA2F5">10</text>
<text transform="translate(41.38 481.12) scale(0.992 1)" font-size="12.17" font-weight="bold" fill="#5AA2F5" stroke="#5AA2F5">20</text>
<text transform="translate(41.50 441.58) scale(0.983 1)" font-size="12.17" font-weight="bold" fill="#5AA2F5" stroke="#5AA2F5">30</text>
<text transform="translate(41.62 402.04) scale(0.973 1)" font-size="12.17" font-weight="bold" fill="#5AA2F5" stroke="#5AA2F5">40</text>
<text transform="translate(41.44 362.50) scale(0.987 1)" font-size="12.17" font-weight="bold" fill="#5AA2F5" stroke="#5AA2F5">50</text>
<line x1="320.70" y1="556.20" x2="326.00" y2="556.20" stroke="#000" stroke-width="2.1"/>
<text transform="translate(327.88 560.10) scale(1.072 1)" font-size="12.17" font-weight="bold" fill="#FA9E40" stroke="#FA9E40">0</text>
<line x1="320.70" y1="516.66" x2="326.00" y2="516.66" stroke="#000" stroke-width="2.1"/>
<text transform="translate(327.97 520.56) scale(1.016 1)" font-size="12.17" font-weight="bold" fill="#FA9E40" stroke="#FA9E40">20</text>
<line x1="320.70" y1="477.12" x2="326.00" y2="477.12" stroke="#000" stroke-width="2.1"/>
<text transform="translate(328.22 481.02) scale(0.997 1)" font-size="12.17" font-weight="bold" fill="#FA9E40" stroke="#FA9E40">40</text>
<line x1="320.70" y1="437.58" x2="326.00" y2="437.58" stroke="#000" stroke-width="2.1"/>
<text transform="translate(327.97 441.48) scale(1.016 1)" font-size="12.17" font-weight="bold" fill="#FA9E40" stroke="#FA9E40">60</text>
<line x1="320.70" y1="398.04" x2="326.00" y2="398.04" stroke="#000" stroke-width="2.1"/>
<text transform="translate(328.03 401.94) scale(1.011 1)" font-size="12.17" font-weight="bold" fill="#FA9E40" stroke="#FA9E40">80</text>
<line x1="320.70" y1="358.50" x2="326.00" y2="358.50" stroke="#000" stroke-width="2.1"/>
<text transform="translate(327.58 362.40) scale(1.032 1)" font-size="12.17" font-weight="bold" fill="#FA9E40" stroke="#FA9E40">100</text>
<line x1="88.70" y1="556.20" x2="88.70" y2="562.50" stroke="#000" stroke-width="2.1"/>
<line x1="140.20" y1="556.20" x2="140.20" y2="562.50" stroke="#000" stroke-width="2.1"/>
<line x1="191.50" y1="556.20" x2="191.50" y2="562.50" stroke="#000" stroke-width="2.1"/>
<line x1="242.70" y1="556.20" x2="242.70" y2="562.50" stroke="#000" stroke-width="2.1"/>
<line x1="294.20" y1="556.20" x2="294.20" y2="562.50" stroke="#000" stroke-width="2.1"/>
<text transform="translate(33.80 481.44) rotate(-90) scale(0.953 1)" font-size="12.61" font-weight="bold" fill="#5AA2F5" stroke="#5AA2F5">Yield (%)</text>
<text transform="translate(348.10 430.23) rotate(90) scale(0.920 1)" font-size="12.90" font-weight="bold" fill="#FA9E40" stroke="#FA9E40">Ratio (%)</text>
<rect x="72.45" y="360.75" width="14.2" height="6.2" fill="#559FFE" stroke="#000" stroke-width="1.9"/>
<text transform="translate(96.66 367.90) scale(1.000 1)" font-size="12.17" font-weight="bold" fill="#000" stroke="#000">Yield of 2a</text>
<line x1="71.50" y1="379.30" x2="87.60" y2="379.30" stroke="#C9C9C9" stroke-width="1.3"/>
<circle cx="79.40" cy="379.30" r="2.7" fill="#FA9E40" stroke="none" stroke-width="0"/>
<text transform="translate(96.11 383.20) scale(1.016 1)" font-size="12.03" font-weight="bold" fill="#000" stroke="#000">Ratio of 2a</text>
<polyline points="84.5,543.3 84.5,508.2 140.5,508.2" fill="none" stroke="#FF0000" stroke-width="2.2"/>
<line x1="140.50" y1="508.20" x2="140.50" y2="515.30" stroke="#FF0000" stroke-width="2.2"/>
<path d="M136.35,514.30 L144.65,514.30 L140.50,525.00 Z" fill="#FF0000"/>
<text transform="translate(98.21 523.50) scale(1.008 1)" font-size="12.75" font-weight="bold" fill="#000" stroke="#000">SSM</text>
<polyline points="134.4,491.4 134.4,462.3 191.1,462.3" fill="none" stroke="#FF0000" stroke-width="2.2"/>
<line x1="191.10" y1="462.30" x2="191.10" y2="470.30" stroke="#FF0000" stroke-width="2.2"/>
<path d="M187.20,469.30 L195.00,469.30 L191.10,478.20 Z" fill="#FF0000"/>
<text transform="translate(137.71 475.80) scale(0.990 1)" font-size="12.32" font-weight="bold" fill="#000" stroke="#000">FRISM 1</text>
<text transform="translate(216.89 359.90) scale(0.982 1)" font-size="12.75" font-weight="bold" fill="#000" stroke="#000">FRISM 2</text>
<polyline points="185.8,384.4 185.8,345.9 294.8,345.9" fill="none" stroke="#FF0000" stroke-width="2.2"/>
<line x1="294.80" y1="345.90" x2="294.80" y2="351.20" stroke="#FF0000" stroke-width="2.2"/>
<path d="M290.60,350.20 L299.00,350.20 L294.80,360.80 Z" fill="#FF0000"/>
<line x1="241.70" y1="345.90" x2="241.70" y2="369.10" stroke="#FF0000" stroke-width="2.2"/>
<path d="M237.35,368.10 L246.05,368.10 L241.70,378.30 Z" fill="#FF0000"/>
<text x="92.00" y="574.20" font-size="11.5" text-anchor="end" font-weight="bold" transform="rotate(-45 92.00 574.20)" stroke="#000">WT</text>
<text x="143.50" y="574.20" font-size="11.5" text-anchor="end" font-weight="bold" transform="rotate(-45 143.50 574.20)" stroke="#000">P324H</text>
<text x="194.80" y="574.20" font-size="11.5" text-anchor="end" font-weight="bold" transform="rotate(-45 194.80 574.20)" stroke="#000">M5</text>
<text x="246.00" y="574.20" font-size="11.5" text-anchor="end" font-weight="bold" transform="rotate(-45 246.00 574.20)" stroke="#000">M7</text>
<text x="297.50" y="574.20" font-size="11.5" text-anchor="end" font-weight="bold" transform="rotate(-45 297.50 574.20)" stroke="#000">M8</text>
<text x="383.90" y="346.80" font-size="14" text-anchor="start" font-weight="bold" fill="#000" stroke="#000">e</text>
<rect x="453.90" y="528.40" width="23.00" height="27.80" fill="#559FFE" stroke="#000" stroke-width="2.2"/>
<rect x="505.00" y="496.30" width="23.00" height="59.90" fill="#559FFE" stroke="#000" stroke-width="2.2"/>
<rect x="556.40" y="405.20" width="23.00" height="151.00" fill="#559FFE" stroke="#000" stroke-width="2.2"/>
<rect x="607.60" y="378.10" width="23.00" height="178.10" fill="#559FFE" stroke="#000" stroke-width="2.2"/>
<polyline points="465.5,388.0 516.6,393.3 567.8,375.5 618.6,371.8" fill="none" stroke="#C9C9C9" stroke-width="1.5"/>
<circle cx="465.50" cy="388.00" r="3.3" fill="#FA9E40" stroke="none" stroke-width="0"/>
<line x1="513.20" y1="391.30" x2="520.00" y2="391.30" stroke="#000" stroke-width="1.4"/>
<line x1="513.20" y1="395.30" x2="520.00" y2="395.30" stroke="#000" stroke-width="1.4"/>
<line x1="516.60" y1="391.30" x2="516.60" y2="395.30" stroke="#000" stroke-width="1.2"/>
<circle cx="516.60" cy="393.30" r="3.3" fill="#FA9E40" stroke="none" stroke-width="0"/>
<line x1="564.40" y1="373.70" x2="571.20" y2="373.70" stroke="#000" stroke-width="1.4"/>
<line x1="564.40" y1="377.30" x2="571.20" y2="377.30" stroke="#000" stroke-width="1.4"/>
<line x1="567.80" y1="373.70" x2="567.80" y2="377.30" stroke="#000" stroke-width="1.2"/>
<circle cx="567.80" cy="375.50" r="3.3" fill="#FA9E40" stroke="none" stroke-width="0"/>
<circle cx="618.60" cy="371.80" r="3.3" fill="#FA9E40" stroke="none" stroke-width="0"/>
<line x1="465.40" y1="527.30" x2="465.40" y2="525.60" stroke="#000" stroke-width="2.1"/>
<line x1="459.90" y1="525.60" x2="470.90" y2="525.60" stroke="#000" stroke-width="2.1"/>
<circle cx="455.40" cy="527.40" r="2.5" fill="none" stroke="#000" stroke-width="1.4"/>
<circle cx="465.60" cy="525.00" r="2.5" fill="none" stroke="#000" stroke-width="1.4"/>
<circle cx="475.50" cy="526.20" r="2.5" fill="none" stroke="#000" stroke-width="1.4"/>
<line x1="516.50" y1="495.20" x2="516.50" y2="488.80" stroke="#000" stroke-width="2.1"/>
<line x1="510.20" y1="488.80" x2="522.80" y2="488.80" stroke="#000" stroke-width="2.1"/>
<circle cx="510.70" cy="489.40" r="2.5" fill="none" stroke="#000" stroke-width="1.4"/>
<circle cx="521.70" cy="493.20" r="2.5" fill="none" stroke="#000" stroke-width="1.4"/>
<circle cx="516.50" cy="500.40" r="2.5" fill="none" stroke="#000" stroke-width="1.4"/>
<line x1="567.90" y1="404.10" x2="567.90" y2="400.60" stroke="#000" stroke-width="2.1"/>
<line x1="560.90" y1="400.60" x2="574.90" y2="400.60" stroke="#000" stroke-width="2.1"/>
<circle cx="561.40" cy="400.90" r="2.5" fill="none" stroke="#000" stroke-width="1.4"/>
<circle cx="567.60" cy="401.40" r="2.5" fill="none" stroke="#000" stroke-width="1.4"/>
<circle cx="573.60" cy="401.40" r="2.5" fill="none" stroke="#000" stroke-width="1.4"/>
<circle cx="567.90" cy="407.90" r="2.5" fill="none" stroke="#000" stroke-width="1.4"/>
<line x1="619.10" y1="377.00" x2="619.10" y2="373.60" stroke="#000" stroke-width="2.1"/>
<line x1="612.10" y1="373.60" x2="626.10" y2="373.60" stroke="#000" stroke-width="2.1"/>
<circle cx="612.30" cy="374.00" r="2.5" fill="none" stroke="#000" stroke-width="1.4"/>
<circle cx="619.00" cy="374.00" r="2.5" fill="none" stroke="#000" stroke-width="1.4"/>
<circle cx="625.80" cy="374.00" r="2.5" fill="none" stroke="#000" stroke-width="1.4"/>
<circle cx="618.90" cy="381.30" r="2.5" fill="none" stroke="#000" stroke-width="1.4"/>
<line x1="439.80" y1="357.40" x2="439.80" y2="557.20" stroke="#000" stroke-width="2.2"/>
<line x1="645.00" y1="357.40" x2="645.00" y2="557.20" stroke="#000" stroke-width="2.2"/>
<line x1="438.70" y1="556.20" x2="646.10" y2="556.20" stroke="#000" stroke-width="2.1"/>
<line x1="433.40" y1="556.20" x2="439.80" y2="556.20" stroke="#000" stroke-width="2.1"/>
<line x1="645.00" y1="556.20" x2="650.00" y2="556.20" stroke="#000" stroke-width="2.1"/>
<text transform="translate(425.08 560.30) scale(1.072 1)" font-size="12.17" font-weight="bold" fill="#5AA2F5" stroke="#5AA2F5">0</text>
<text transform="translate(652.28 560.20) scale(1.072 1)" font-size="12.17" font-weight="bold" fill="#FA9E40" stroke="#FA9E40">0</text>
<line x1="433.40" y1="516.54" x2="439.80" y2="516.54" stroke="#000" stroke-width="2.1"/>
<line x1="645.00" y1="516.54" x2="650.00" y2="516.54" stroke="#000" stroke-width="2.1"/>
<text transform="translate(418.57 520.64) scale(1.016 1)" font-size="12.17" font-weight="bold" fill="#5AA2F5" stroke="#5AA2F5">20</text>
<text transform="translate(652.37 520.54) scale(1.016 1)" font-size="12.17" font-weight="bold" fill="#FA9E40" stroke="#FA9E40">20</text>
<line x1="433.40" y1="476.88" x2="439.80" y2="476.88" stroke="#000" stroke-width="2.1"/>
<line x1="645.00" y1="476.88" x2="650.00" y2="476.88" stroke="#000" stroke-width="2.1"/>
<text transform="translate(418.82 480.98) scale(0.997 1)" font-size="12.17" font-weight="bold" fill="#5AA2F5" stroke="#5AA2F5">40</text>
<text transform="translate(652.62 480.88) scale(0.997 1)" font-size="12.17" font-weight="bold" fill="#FA9E40" stroke="#FA9E40">40</text>
<line x1="433.40" y1="437.22" x2="439.80" y2="437.22" stroke="#000" stroke-width="2.1"/>
<line x1="645.00" y1="437.22" x2="650.00" y2="437.22" stroke="#000" stroke-width="2.1"/>
<text transform="translate(418.57 441.32) scale(1.016 1)" font-size="12.17" font-weight="bold" fill="#5AA2F5" stroke="#5AA2F5">60</text>
<text transform="translate(652.37 441.22) scale(1.016 1)" font-size="12.17" font-weight="bold" fill="#FA9E40" stroke="#FA9E40">60</text>
<line x1="433.40" y1="397.56" x2="439.80" y2="397.56" stroke="#000" stroke-width="2.1"/>
<line x1="645.00" y1="397.56" x2="650.00" y2="397.56" stroke="#000" stroke-width="2.1"/>
<text transform="translate(418.63 401.66) scale(1.011 1)" font-size="12.17" font-weight="bold" fill="#5AA2F5" stroke="#5AA2F5">80</text>
<text transform="translate(652.43 401.56) scale(1.011 1)" font-size="12.17" font-weight="bold" fill="#FA9E40" stroke="#FA9E40">80</text>
<line x1="433.40" y1="357.90" x2="439.80" y2="357.90" stroke="#000" stroke-width="2.1"/>
<line x1="645.00" y1="357.90" x2="650.00" y2="357.90" stroke="#000" stroke-width="2.1"/>
<text transform="translate(411.18 362.00) scale(1.043 1)" font-size="12.17" font-weight="bold" fill="#5AA2F5" stroke="#5AA2F5">100</text>
<text transform="translate(651.97 361.90) scale(1.043 1)" font-size="12.17" font-weight="bold" fill="#FA9E40" stroke="#FA9E40">100</text>
<line x1="465.40" y1="556.20" x2="465.40" y2="562.30" stroke="#000" stroke-width="2.1"/>
<line x1="516.50" y1="556.20" x2="516.50" y2="562.30" stroke="#000" stroke-width="2.1"/>
<line x1="567.90" y1="556.20" x2="567.90" y2="562.30" stroke="#000" stroke-width="2.1"/>
<line x1="619.10" y1="556.20" x2="619.10" y2="562.30" stroke="#000" stroke-width="2.1"/>
<text transform="translate(408.80 480.84) rotate(-90) scale(0.914 1)" font-size="13.04" font-weight="bold" fill="#5AA2F5" stroke="#5AA2F5">Yield (%)</text>
<text transform="translate(674.30 429.73) rotate(90) scale(0.910 1)" font-size="13.04" font-weight="bold" fill="#FA9E40" stroke="#FA9E40">Ratio (%)</text>
<rect x="446.05" y="348.55" width="13.9" height="5.8" fill="#559FFE" stroke="#000" stroke-width="1.9"/>
<text transform="translate(470.16 355.30) scale(0.967 1)" font-size="12.46" font-weight="bold" fill="#000" stroke="#000">Yield of 6a</text>
<line x1="538.00" y1="351.40" x2="554.10" y2="351.40" stroke="#C9C9C9" stroke-width="1.3"/>
<circle cx="546.10" cy="351.40" r="2.7" fill="#FA9E40" stroke="none" stroke-width="0"/>
<text transform="translate(563.11 355.60) scale(0.979 1)" font-size="12.46" font-weight="bold" fill="#000" stroke="#000">Ratio of 6a</text>
<text x="468.70" y="574.00" font-size="11.5" text-anchor="end" font-weight="bold" transform="rotate(-45 468.70 574.00)" stroke="#000">WT</text>
<text x="519.80" y="574.00" font-size="11.5" text-anchor="end" font-weight="bold" transform="rotate(-45 519.80 574.00)" stroke="#000">M3</text>
<text x="571.20" y="574.00" font-size="11.5" text-anchor="end" font-weight="bold" transform="rotate(-45 571.20 574.00)" stroke="#000">M5</text>
<text x="622.40" y="574.00" font-size="11.5" text-anchor="end" font-weight="bold" transform="rotate(-45 622.40 574.00)" stroke="#000">M7</text>
<text x="-0.60" y="600.80" font-size="14" text-anchor="start" font-weight="bold" fill="#000" stroke="#000">f</text>
<line x1="77.50" y1="616.00" x2="77.50" y2="760.80" stroke="#000" stroke-width="1.3"/>
<line x1="74.60" y1="757.30" x2="77.50" y2="757.30" stroke="#000" stroke-width="1.1"/>
<text transform="translate(67.99 760.00) scale(0.995 1)" font-size="7.83" font-weight="bold" fill="#000" stroke="#000">0</text>
<line x1="74.60" y1="729.20" x2="77.50" y2="729.20" stroke="#000" stroke-width="1.1"/>
<text transform="translate(72.34 732.20) scale(1.063 1)" font-size="8.12" font-weight="bold" text-anchor="end" fill="#000" stroke="#000">1×10<tspan font-size="5.03" dy="-3.25">5</tspan></text>
<line x1="74.60" y1="701.10" x2="77.50" y2="701.10" stroke="#000" stroke-width="1.1"/>
<text transform="translate(72.34 704.10) scale(1.050 1)" font-size="8.12" font-weight="bold" text-anchor="end" fill="#000" stroke="#000">2×10<tspan font-size="5.03" dy="-3.25">5</tspan></text>
<line x1="74.60" y1="673.00" x2="77.50" y2="673.00" stroke="#000" stroke-width="1.1"/>
<text transform="translate(72.34 676.00) scale(1.046 1)" font-size="8.12" font-weight="bold" text-anchor="end" fill="#000" stroke="#000">3×10<tspan font-size="5.03" dy="-3.25">5</tspan></text>
<line x1="74.60" y1="644.90" x2="77.50" y2="644.90" stroke="#000" stroke-width="1.1"/>
<text transform="translate(72.34 647.90) scale(1.042 1)" font-size="8.12" font-weight="bold" text-anchor="end" fill="#000" stroke="#000">4×10<tspan font-size="5.03" dy="-3.25">5</tspan></text>
<line x1="74.60" y1="616.80" x2="77.50" y2="616.80" stroke="#000" stroke-width="1.1"/>
<text transform="translate(72.34 619.80) scale(1.048 1)" font-size="8.12" font-weight="bold" text-anchor="end" fill="#000" stroke="#000">5×10<tspan font-size="5.03" dy="-3.25">5</tspan></text>
<line x1="77.50" y1="760.10" x2="317.70" y2="760.10" stroke="#000" stroke-width="1.3"/>
<line x1="97.54" y1="760.10" x2="97.54" y2="763.30" stroke="#000" stroke-width="1.1"/>
<text transform="translate(95.17 771.80) scale(1.153 1)" font-size="7.54" font-weight="bold" fill="#000" stroke="#000">3</text>
<line x1="127.48" y1="760.10" x2="127.48" y2="763.30" stroke="#000" stroke-width="1.1"/>
<text transform="translate(125.02 771.80) scale(1.176 1)" font-size="7.54" font-weight="bold" fill="#000" stroke="#000">6</text>
<line x1="157.42" y1="760.10" x2="157.42" y2="763.30" stroke="#000" stroke-width="1.1"/>
<text transform="translate(154.96 771.80) scale(1.176 1)" font-size="7.54" font-weight="bold" fill="#000" stroke="#000">9</text>
<line x1="187.36" y1="760.10" x2="187.36" y2="763.30" stroke="#000" stroke-width="1.1"/>
<text transform="translate(182.67 771.80) scale(1.096 1)" font-size="7.54" font-weight="bold" fill="#000" stroke="#000">12</text>
<line x1="217.30" y1="760.10" x2="217.30" y2="763.30" stroke="#000" stroke-width="1.1"/>
<text transform="translate(212.62 771.80) scale(1.080 1)" font-size="7.54" font-weight="bold" fill="#000" stroke="#000">15</text>
<line x1="247.24" y1="760.10" x2="247.24" y2="763.30" stroke="#000" stroke-width="1.1"/>
<text transform="translate(242.56 771.80) scale(1.085 1)" font-size="7.54" font-weight="bold" fill="#000" stroke="#000">18</text>
<line x1="277.18" y1="760.10" x2="277.18" y2="763.30" stroke="#000" stroke-width="1.1"/>
<text transform="translate(272.75 771.80) scale(1.049 1)" font-size="7.54" font-weight="bold" fill="#000" stroke="#000">21</text>
<line x1="307.12" y1="760.10" x2="307.12" y2="763.30" stroke="#000" stroke-width="1.1"/>
<text transform="translate(302.70 771.80) scale(1.029 1)" font-size="7.54" font-weight="bold" fill="#000" stroke="#000">24</text>
<text transform="translate(172.05 782.90) scale(1.162 1)" font-size="7.25" font-weight="bold" fill="#000" stroke="#000">R.Time (min)</text>
<text transform="translate(45.70 702.55) rotate(-90) scale(0.904 1)" font-size="9.42" font-weight="bold" fill="#000" stroke="#000">Intensity</text>
<path d="M77.60,721.70 L174.00,721.70 L175.00,721.62 L175.30,721.31 L175.60,720.26 L176.00,715.76 L176.30,708.26 L177.00,682.24 L177.20,678.32 L177.30,677.80 L177.50,679.15 L177.70,682.96 L178.50,707.45 L178.90,715.76 L179.10,718.21 L179.40,720.30 L179.70,721.21 L179.90,721.48 L180.20,721.64 L183.10,721.69 L183.50,721.63 L183.80,721.41 L184.10,720.82 L184.30,720.08 L185.00,715.96 L185.20,715.29 L185.30,715.20 L185.40,715.29 L185.60,715.96 L186.20,719.55 L186.40,720.37 L186.60,720.79 L186.70,720.86 L186.90,720.73 L187.40,719.75 L187.60,719.60 L187.90,719.95 L188.50,721.28 L188.80,721.58 L189.20,721.69 L189.90,721.70 L190.60,721.54 L190.90,721.12 L191.20,720.04 L192.00,713.85 L192.20,712.92 L192.30,712.80 L192.40,712.92 L192.60,713.85 L193.20,718.81 L193.50,720.50 L193.90,721.45 L194.10,721.60 L194.50,721.69 L196.50,721.65 L197.90,721.00 L198.20,721.08 L198.90,721.53 L199.40,721.67 L203.20,721.64 L203.50,721.50 L203.80,721.12 L204.60,718.96 L204.90,718.60 L205.20,718.96 L205.80,720.69 L206.10,721.28 L206.50,721.61 L207.10,721.70 L208.50,721.62 L209.50,720.99 L209.80,720.90 L210.10,720.99 L211.00,721.59 L212.00,721.70 L216.10,721.68 L217.60,721.30 L218.70,721.63 L219.40,721.70 L237.80,721.70 L238.80,721.61 L240.30,721.20 L241.90,721.63 L243.00,721.70 L317.70,721.70" fill="none" stroke="#FF0000" stroke-width="1.45" stroke-linejoin="round"/>
<path d="M77.60,752.80 L116.40,752.81 L116.90,752.74 L117.20,752.30 L117.40,751.22 L117.60,748.50 L117.90,737.91 L118.20,714.58 L118.70,657.92 L118.90,644.51 L119.00,642.70 L119.20,645.71 L119.40,654.24 L120.30,718.63 L120.70,737.92 L120.90,743.76 L121.20,748.95 L121.60,751.79 L121.80,752.33 L122.10,752.68 L122.50,752.80 L123.20,752.82 L175.20,752.84 L175.70,752.80 L176.10,752.66 L177.00,751.66 L177.30,751.50 L177.60,751.66 L178.30,752.51 L178.80,752.78 L182.50,752.84 L183.00,752.78 L183.40,752.55 L183.70,752.15 L184.30,750.95 L184.60,750.70 L184.90,750.95 L185.50,752.15 L185.80,752.55 L186.20,752.78 L186.80,752.84 L189.20,752.84 L189.80,752.76 L190.20,752.54 L190.90,751.75 L191.20,751.60 L191.50,751.75 L192.30,752.62 L192.90,752.83 L202.70,752.83 L203.10,752.74 L203.40,752.53 L204.20,751.31 L204.50,751.10 L204.80,751.31 L205.70,752.62 L206.10,752.80 L206.70,752.85 L317.70,752.90" fill="none" stroke="#000" stroke-width="1.45" stroke-linejoin="round"/>
<line x1="118.40" y1="635.70" x2="118.40" y2="763.80" stroke="#000" stroke-width="0.9" stroke-dasharray="1.6,1.1"/>
<line x1="177.30" y1="673.20" x2="177.30" y2="763.40" stroke="#000" stroke-width="0.9" stroke-dasharray="1.6,1.1"/>
<text transform="translate(114.16 634.20) scale(0.964 1)" font-size="8.55" font-weight="bold" fill="#000" stroke="#000">1a</text>
<text transform="translate(172.42 670.70) scale(1.025 1)" font-size="7.83" font-weight="bold" fill="#000" stroke="#000">2a</text>
<text transform="translate(267.55 719.80) scale(0.960 1)" font-size="7.25" font-weight="bold" fill="#000" stroke="#000">1a+DMAPP+M8</text>
<text transform="translate(266.65 751.10) scale(1.036 1)" font-size="6.67" font-weight="bold" fill="#000" stroke="#000">1a+DMAPP+WT</text>
<text x="358.60" y="600.40" font-size="14" text-anchor="start" font-weight="bold" fill="#000" stroke="#000">g</text>
<line x1="427.90" y1="615.50" x2="427.90" y2="760.80" stroke="#000" stroke-width="1.3"/>
<line x1="424.90" y1="758.90" x2="427.90" y2="758.90" stroke="#000" stroke-width="1.1"/>
<text transform="translate(411.66 761.80) scale(0.999 1)" font-size="8.41" font-weight="bold" fill="#000" stroke="#000">0.0</text>
<line x1="424.90" y1="723.20" x2="427.90" y2="723.20" stroke="#000" stroke-width="1.1"/>
<text transform="translate(423.04 726.30) scale(0.993 1)" font-size="8.55" font-weight="bold" text-anchor="end" fill="#000" stroke="#000">2.0×10<tspan font-size="5.30" dy="-3.42">5</tspan></text>
<line x1="424.90" y1="687.50" x2="427.90" y2="687.50" stroke="#000" stroke-width="1.1"/>
<text transform="translate(423.04 690.60) scale(0.987 1)" font-size="8.55" font-weight="bold" text-anchor="end" fill="#000" stroke="#000">4.0×10<tspan font-size="5.30" dy="-3.42">5</tspan></text>
<line x1="424.90" y1="651.80" x2="427.90" y2="651.80" stroke="#000" stroke-width="1.1"/>
<text transform="translate(423.04 654.90) scale(0.993 1)" font-size="8.55" font-weight="bold" text-anchor="end" fill="#000" stroke="#000">6.0×10<tspan font-size="5.30" dy="-3.42">5</tspan></text>
<line x1="424.90" y1="616.10" x2="427.90" y2="616.10" stroke="#000" stroke-width="1.1"/>
<text transform="translate(423.04 619.20) scale(0.992 1)" font-size="8.55" font-weight="bold" text-anchor="end" fill="#000" stroke="#000">8.0×10<tspan font-size="5.30" dy="-3.42">5</tspan></text>
<line x1="427.90" y1="760.10" x2="668.80" y2="760.10" stroke="#000" stroke-width="1.3"/>
<line x1="448.00" y1="760.10" x2="448.00" y2="763.30" stroke="#000" stroke-width="1.1"/>
<text transform="translate(445.63 771.80) scale(1.153 1)" font-size="7.54" font-weight="bold" fill="#000" stroke="#000">3</text>
<line x1="478.00" y1="760.10" x2="478.00" y2="763.30" stroke="#000" stroke-width="1.1"/>
<text transform="translate(475.54 771.80) scale(1.176 1)" font-size="7.54" font-weight="bold" fill="#000" stroke="#000">6</text>
<line x1="508.00" y1="760.10" x2="508.00" y2="763.30" stroke="#000" stroke-width="1.1"/>
<text transform="translate(505.54 771.80) scale(1.176 1)" font-size="7.54" font-weight="bold" fill="#000" stroke="#000">9</text>
<line x1="538.00" y1="760.10" x2="538.00" y2="763.30" stroke="#000" stroke-width="1.1"/>
<text transform="translate(533.31 771.80) scale(1.096 1)" font-size="7.54" font-weight="bold" fill="#000" stroke="#000">12</text>
<line x1="568.00" y1="760.10" x2="568.00" y2="763.30" stroke="#000" stroke-width="1.1"/>
<text transform="translate(563.32 771.80) scale(1.080 1)" font-size="7.54" font-weight="bold" fill="#000" stroke="#000">15</text>
<line x1="598.00" y1="760.10" x2="598.00" y2="763.30" stroke="#000" stroke-width="1.1"/>
<text transform="translate(593.32 771.80) scale(1.085 1)" font-size="7.54" font-weight="bold" fill="#000" stroke="#000">18</text>
<line x1="628.00" y1="760.10" x2="628.00" y2="763.30" stroke="#000" stroke-width="1.1"/>
<text transform="translate(623.57 771.80) scale(1.049 1)" font-size="7.54" font-weight="bold" fill="#000" stroke="#000">21</text>
<line x1="658.00" y1="760.10" x2="658.00" y2="763.30" stroke="#000" stroke-width="1.1"/>
<text transform="translate(653.58 771.80) scale(1.029 1)" font-size="7.54" font-weight="bold" fill="#000" stroke="#000">24</text>
<text transform="translate(522.75 782.90) scale(1.167 1)" font-size="7.25" font-weight="bold" fill="#000" stroke="#000">R.Time (min)</text>
<text transform="translate(389.10 702.55) rotate(-90) scale(0.963 1)" font-size="8.84" font-weight="bold" fill="#000" stroke="#000">Intensity</text>
<path d="M427.90,733.30 L547.50,733.44 L548.20,733.37 L548.70,733.09 L549.10,732.59 L549.90,731.11 L550.30,730.80 L550.70,731.11 L551.70,732.88 L552.00,733.18 L552.40,733.37 L553.20,733.45 L557.70,733.46 L558.50,733.37 L558.70,733.16 L558.90,732.59 L559.10,731.21 L559.30,728.28 L559.50,722.79 L559.80,707.86 L560.40,663.87 L560.60,655.69 L560.70,654.60 L560.90,657.36 L561.10,665.06 L561.80,706.57 L562.20,722.79 L562.60,730.28 L562.90,732.40 L563.10,733.00 L563.30,733.27 L563.90,733.46 L566.90,733.46 L567.40,733.39 L568.50,733.00 L569.60,733.39 L570.30,733.47 L588.00,733.48 L588.60,733.40 L589.10,733.20 L589.60,732.82 L590.50,731.91 L591.00,731.70 L591.50,731.91 L592.40,732.83 L592.90,733.21 L593.50,733.43 L594.30,733.50 L668.80,733.60" fill="none" stroke="#FF0000" stroke-width="1.45" stroke-linejoin="round"/>
<path d="M427.90,753.40 L465.00,753.41 L465.50,753.38 L465.80,753.14 L466.00,752.56 L466.20,751.12 L466.50,745.48 L466.80,733.06 L467.30,702.90 L467.50,695.76 L467.60,694.80 L467.80,696.40 L468.00,700.94 L468.90,735.22 L469.30,745.48 L469.50,748.60 L469.80,751.36 L470.20,752.87 L470.40,753.16 L470.70,753.34 L471.90,753.42 L548.20,753.45 L549.10,753.39 L550.30,753.00 L551.40,753.37 L551.90,753.44 L558.60,753.43 L558.90,753.32 L559.10,753.12 L559.50,751.85 L559.80,749.61 L560.40,742.99 L560.60,741.76 L560.70,741.60 L560.90,742.01 L561.10,743.17 L561.80,749.41 L562.20,751.85 L562.60,752.98 L562.90,753.30 L563.30,753.43 L587.00,753.46 L587.90,753.37 L589.40,752.90 L591.00,753.39 L592.10,753.47 L668.80,753.50" fill="none" stroke="#000" stroke-width="1.45" stroke-linejoin="round"/>
<line x1="467.50" y1="683.30" x2="467.50" y2="763.00" stroke="#000" stroke-width="0.9" stroke-dasharray="1.6,1.1"/>
<line x1="560.70" y1="646.30" x2="560.70" y2="763.00" stroke="#000" stroke-width="0.9" stroke-dasharray="1.6,1.1"/>
<text transform="translate(462.97 682.10) scale(1.125 1)" font-size="7.25" font-weight="bold" fill="#000" stroke="#000">1a</text>
<text transform="translate(555.92 645.00) scale(1.094 1)" font-size="7.25" font-weight="bold" fill="#000" stroke="#000">6a</text>
<text transform="translate(626.54 731.80) scale(0.986 1)" font-size="7.25" font-weight="bold" fill="#000" stroke="#000">1a+GPP+M7</text>
<text transform="translate(626.04 751.50) scale(0.991 1)" font-size="7.10" font-weight="bold" fill="#000" stroke="#000">1a+GPP+WT</text>
</svg></body></html>
